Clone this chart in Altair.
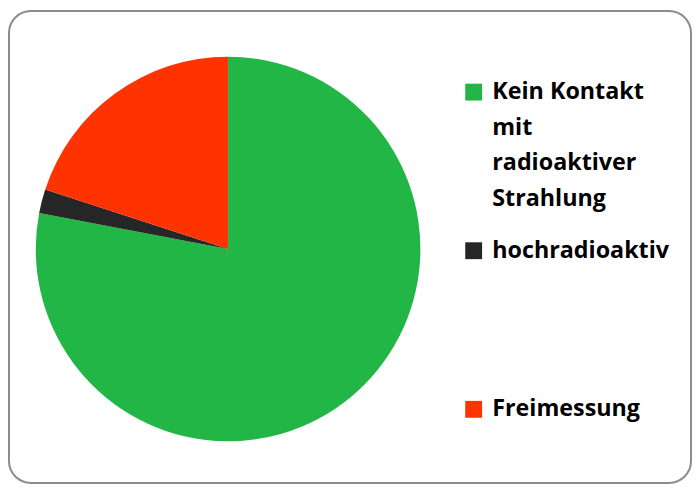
import altair as alt
import pandas as pd

categories = ["Kein Kontakt\nmit\nradioaktiver\nStrahlung", "hochradioaktiv", "Freimessung"]
values = [78, 2, 20]
colors = ["#21B645", "#262626", "#FF3300"]
order = [0, 1, 2]

df = pd.DataFrame({"Kategorie": categories, "Anteil": values, "Reihenfolge": order})

legend = alt.Legend(
    title=None,
    orient="none",
    legendX=457,
    legendY=70,
    padding=0,
    symbolType="square",
    symbolSize=289,
    symbolStrokeWidth=0,
    labelFont="Open Sans",
    labelFontSize=23.5,
    labelFontWeight="bold",
    labelColor="black",
    labelOffset=7,
    labelLimit=0,
    labelBaseline="middle",
    gridAlign="all",
    rowPadding=27,
    labelExpr="split(datum.label, '\\n')",
)

chart = (
    alt.Chart(df)
    .mark_arc(radius=194, strokeWidth=0)
    .encode(
        theta=alt.Theta("Anteil:Q", stack=True),
        color=alt.Color("Kategorie:N", scale=alt.Scale(domain=categories, range=colors), legend=legend),
        order=alt.Order("Reihenfolge:Q"),
        x=alt.value(221),
        y=alt.value(240),
    )
    .properties(
        width=690,
        height=478,
        padding=1,
        autosize=alt.AutoSizeParams(type="fit", contains="padding"),
    )
    .configure(style={"guide-label": {"lineHeight": 36}})
    .configure_view(stroke="#8c8c8c", strokeWidth=2, cornerRadius=22)
)

chart.save("out.html", embed_options={"renderer": "svg", "actions": False})
